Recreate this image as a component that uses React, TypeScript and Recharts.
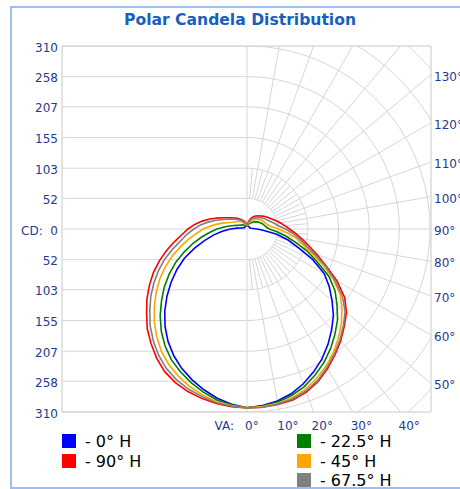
import React from "react";
import { ScatterChart, Scatter, XAxis, YAxis, ReferenceArea } from "recharts";

// vertical angles (deg), 0 = straight down, 180 = straight up
const ANGLES = [
  0, 5, 10, 15, 20, 25, 30, 35, 40, 45, 50, 55, 60, 65, 70, 75, 80, 85, 90,
  95, 100, 105, 110, 115, 120, 125, 130, 135, 140, 145, 150, 155, 160, 165, 170, 175, 180,
];

// candela per angle, right half of the plot
const BLUE_RIGHT = [303, 300, 296, 289, 279, 267, 254, 239, 223, 207, 188, 170, 151, 123, 93, 72, 51, 29, 17, 10, 7, 6, 5, 5, 5, 5, 5, 5, 5, 5, 5, 5, 5, 5, 5, 5, 5];
const GREEN_RIGHT = [303, 301, 298, 292, 284, 273, 261, 247, 232, 217, 199, 182, 160, 131, 108, 84, 66, 50, 38, 33, 31, 29, 27, 25, 23, 21, 19, 17, 15, 13, 12, 10, 9, 8, 7, 6, 5];
const ORANGE_RIGHT = [303, 302, 300, 296, 289, 279, 268, 255, 241, 226, 210, 193, 168, 141, 114, 96, 83, 67, 53, 42, 37, 34, 32, 31, 29, 27, 25, 23, 21, 19, 17, 14, 12, 10, 8, 6, 5];
const GRAY_RIGHT = [303, 303, 301, 298, 292, 283, 271, 258, 245, 231, 217, 197, 171, 146, 120, 102, 89, 77, 65, 55, 49, 44, 40, 37, 35, 32, 30, 27, 25, 23, 21, 19, 16, 13, 10, 8, 6];
const RED_RIGHT = [303, 303, 302, 300, 294, 285, 273, 260, 247, 233, 220, 202, 176, 148, 126, 108, 94, 82, 72, 64, 58, 52, 47, 43, 40, 37, 34, 31, 29, 27, 25, 22, 19, 16, 12, 9, 6];

// candela per angle, left half of the plot
const BLUE_LEFT = [303, 298, 291, 282, 272, 261, 248, 233, 216, 197, 177, 157, 137, 117, 94, 74, 57, 42, 28, 17, 10, 7, 6, 5, 5, 5, 5, 5, 5, 5, 5, 5, 5, 5, 5, 5, 5];
const GREEN_LEFT = [303, 299, 294, 286, 277, 267, 256, 242, 226, 208, 189, 171, 152, 133, 113, 95, 78, 63, 51, 39, 30, 23, 18, 15, 13, 12, 11, 10, 9, 8, 7, 6, 6, 5, 5, 5, 5];
const ORANGE_LEFT = [303, 300, 297, 291, 284, 275, 265, 253, 238, 222, 205, 188, 171, 153, 135, 117, 101, 86, 74, 61, 50, 40, 32, 27, 24, 22, 20, 18, 16, 14, 12, 10, 9, 8, 7, 6, 5];
const GRAY_LEFT = [303, 301, 299, 294, 289, 282, 273, 261, 247, 232, 215, 199, 182, 165, 148, 130, 114, 102, 90, 79, 67, 56, 46, 39, 33, 29, 26, 23, 20, 18, 16, 14, 12, 10, 9, 7, 6];
const RED_LEFT = [303, 302, 300, 297, 293, 287, 279, 267, 253, 239, 222, 207, 191, 175, 158, 141, 125, 111, 100, 89, 77, 65, 54, 45, 38, 33, 29, 26, 23, 20, 18, 16, 14, 12, 10, 8, 6];

const CD_STEPS = [52, 103, 155, 207, 258, 310];
const CIRCLE_CD = [52, 103, 155, 207, 258, 310, 362, 413];
const TOP_LABELS = [180, 170, 160, 150, 140];
const RIGHT_LABELS = [130, 120, 110, 100, 90, 80, 70, 60, 50];
const BOTTOM_LABELS = [0, 10, 20, 30, 40];

const CD_MAX = 310;
const X_LEFT = 313.4;
const X_RIGHT = 311.7;

const NAVY = "#1f3a8f";
const GRID = "#d6d6d6";
const FONT = "'DejaVu Sans', Verdana, sans-serif";

const rad = (d: number) => (d * Math.PI) / 180;
const deg = (r: number) => (r * 180) / Math.PI;
const polar = (a: number, cd: number, side = 1) => ({
  x: side * cd * Math.sin(rad(a)),
  y: -cd * Math.cos(rad(a)),
});

const curve = (left: number[], right: number[]) => [
  ...ANGLES.map((a, i) => polar(a, left[i], -1)).reverse(),
  ...ANGLES.map((a, i) => polar(a, right[i], 1)),
];

const SERIES = [
  { name: "- 0° H", color: "#0000ff", pts: curve(BLUE_LEFT, BLUE_RIGHT) },
  { name: "- 90° H", color: "#ff0000", pts: curve(RED_LEFT, RED_RIGHT) },
  { name: "- 22.5° H", color: "#008000", pts: curve(GREEN_LEFT, GREEN_RIGHT) },
  { name: "- 45° H", color: "#ffa500", pts: curve(ORANGE_LEFT, ORANGE_RIGHT) },
  { name: "- 67.5° H", color: "#808080", pts: curve(GRAY_LEFT, GRAY_RIGHT) },
];

const CD_TICKS = [...CD_STEPS.map((v) => -v).reverse(), 0, ...CD_STEPS];
const BOTTOM_TICKS = BOTTOM_LABELS.map((a) => CD_MAX * Math.tan(rad(a)));
const TOP_TICKS = TOP_LABELS.map((a) => CD_MAX * Math.tan(rad(180 - a)));
const RIGHT_TICKS = RIGHT_LABELS.map((a) => (-X_RIGHT * Math.cos(rad(a))) / Math.sin(rad(a)));

// polar grid pieces
const arcs = CIRCLE_CD.map((r) => {
  const pts = [];
  for (let a = 0; a <= 180; a += 2) pts.push(polar(a, r));
  return pts;
});
const hLines = [...CD_TICKS, -CD_MAX, CD_MAX].map((v) => [
  { x: -X_LEFT, y: v },
  { x: 0, y: v },
]);
const spokes = [];
for (let a = 10; a < 180; a += 10) spokes.push([polar(a, 52), polar(a, 520)]);
for (let a = 5; a < 180; a += 10) spokes.push([polar(a, 52), polar(a, 103)]);
const GRID_PATHS = [
  ...arcs,
  ...hLines,
  ...spokes,
  [
    { x: 0, y: -CD_MAX },
    { x: 0, y: CD_MAX },
  ],
];

const LeftTick = ({ x, y, payload }: any) => (
  <text x={x} y={y} dy={5.5} textAnchor="end" fontFamily={FONT} fontSize={12} fill={NAVY}>
    {payload.value === 0 ? "CD:\u00a0\u00a00" : Math.round(Math.abs(payload.value))}
  </text>
);

const BottomTick = ({ x, y, payload }: any) => {
  const a = Math.round(deg(Math.atan2(payload.value, CD_MAX)));
  return (
    <g>
      {a === 0 && (
        <text x={x - 13} y={y + 18} textAnchor="end" fontFamily={FONT} fontSize={12} fill={NAVY}>
          VA:
        </text>
      )}
      <text x={x - 2} y={y + 18} textAnchor="start" fontFamily={FONT} fontSize={12} fill={NAVY}>
        {a}°
      </text>
    </g>
  );
};

const TopTick = ({ x, y, payload }: any) => {
  const a = 180 - Math.round(deg(Math.atan2(payload.value, CD_MAX)));
  return (
    <text x={x + (a === 180 ? 0 : 5)} y={y - 3.5} textAnchor="middle" fontFamily={FONT} fontSize={12} fill={NAVY}>
      {a}°
    </text>
  );
};

const RightTick = ({ x, y, payload }: any) => {
  const a = Math.round(deg(Math.atan2(X_RIGHT, -payload.value)));
  return (
    <text x={x} y={y} dy={6} textAnchor="start" fontFamily={FONT} fontSize={12} fill={NAVY}>
      {a}°
    </text>
  );
};

const noDot = () => null;

export default function App() {
  const legendPos = [
    { x: 62, y: 434 },
    { x: 62, y: 454 },
    { x: 297, y: 434 },
    { x: 297, y: 454 },
    { x: 297, y: 473 },
  ];
  return (
    <div style={{ position: "absolute", left: 0, top: 0, width: 460, height: 489, overflow: "hidden", background: "#fff" }}>
      <ScatterChart width={460} height={489} margin={{ top: 26, right: 0, bottom: 52, left: 12 }}>
        <XAxis
          type="number"
          dataKey="x"
          domain={[-X_LEFT, X_RIGHT]}
          allowDataOverflow
          ticks={BOTTOM_TICKS}
          interval={0}
          height={25}
          tickSize={0}
          tickMargin={0}
          axisLine={false}
          tick={<BottomTick />}
        />
        <XAxis
          xAxisId="top"
          orientation="top"
          type="number"
          domain={[-X_LEFT, X_RIGHT]}
          allowDataOverflow
          ticks={TOP_TICKS}
          interval={0}
          height={20}
          tickSize={0}
          tickMargin={0}
          axisLine={false}
          tick={<TopTick />}
        />
        <YAxis
          type="number"
          dataKey="y"
          domain={[-CD_MAX, CD_MAX]}
          allowDataOverflow
          ticks={CD_TICKS}
          interval={0}
          width={50}
          tickSize={0}
          tickMargin={4}
          axisLine={false}
          tick={<LeftTick />}
        />
        <YAxis
          yAxisId="right"
          orientation="right"
          type="number"
          domain={[-CD_MAX, CD_MAX]}
          allowDataOverflow
          ticks={RIGHT_TICKS}
          interval={0}
          width={29}
          tickSize={0}
          tickMargin={3}
          axisLine={false}
          tick={<RightTick />}
        />
        <ReferenceArea x1={-X_LEFT} x2={X_RIGHT} y1={-CD_MAX} y2={CD_MAX} fill="none" stroke="#c8c8c8" strokeWidth={1} ifOverflow="visible" />
        {GRID_PATHS.map((p, i) => (
          <Scatter
            key={"g" + i}
            data={p}
            fill={GRID}
            line={{ stroke: GRID, strokeWidth: 1 }}
            lineJointType="linear"
            shape={noDot}
            isAnimationActive={false}
          />
        ))}
        {SERIES.map((s) => (
          <Scatter
            key={s.name}
            name={s.name}
            data={s.pts}
            fill={s.color}
            line={{ stroke: s.color, strokeWidth: 1.6 }}
            lineJointType="linear"
            shape={noDot}
            isAnimationActive={false}
          />
        ))}
      </ScatterChart>
      <svg width={460} height={489} style={{ position: "absolute", left: 0, top: 0, pointerEvents: "none" }}>
        <rect x={11} y={7} width={460} height={481} fill="none" stroke="#9dbdf5" strokeWidth={2} />
        <text x={240} y={25} textAnchor="middle" fontFamily={FONT} fontWeight="bold" fontSize={16} textLength={232} lengthAdjust="spacingAndGlyphs" fill="#1660c0">
          Polar Candela Distribution
        </text>
        {SERIES.map((s, i) => (
          <g key={s.name}>
            <rect x={legendPos[i].x} y={legendPos[i].y} width={14} height={14} fill={s.color} />
            <text x={legendPos[i].x + 23} y={legendPos[i].y + 13} fontFamily={FONT} fontSize={16} fill="#000">
              {s.name}
            </text>
          </g>
        ))}
      </svg>
    </div>
  );
}
